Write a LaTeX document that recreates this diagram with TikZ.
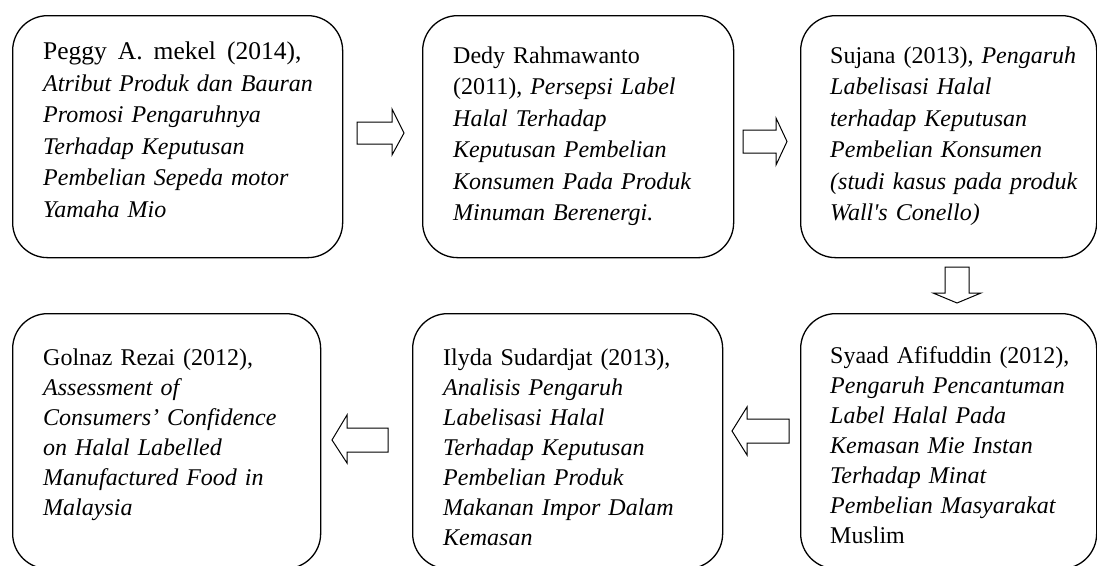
\documentclass[tikz,border=0pt]{standalone}
\usepackage{fontspec}
\setmainfont{Liberation Serif}
\begin{document}
\begin{tikzpicture}[x=1pt,y=-1pt,
  box/.style={draw, line width=1.3pt, rounded corners=35pt, anchor=north west, inner sep=0pt},
  txtop/.style={anchor=north west, inner sep=0pt, text width=300pt, align=left, font=\fontsize{24}{31.5}\selectfont},
  txbot/.style={anchor=north west, inner sep=0pt, text width=300pt, align=left, font=\fontsize{24}{30}\selectfont},
  blockarrow/.style={draw, line width=1pt, line join=miter}]
\useasboundingbox (0,0) rectangle (1097,565);
\clip (0,0) rectangle (1097,565);
% boxes
\node[box, minimum width=330pt, minimum height=242pt] (b1) at (12,15) {};
\node[box, minimum width=311pt, minimum height=242pt] (b2) at (422,15) {};
\node[box, minimum width=296pt, minimum height=242pt] (b3) at (800,15) {};
\node[box, minimum width=308pt, minimum height=255pt] (b4) at (12,313) {};
\node[box, minimum width=310pt, minimum height=255pt] (b5) at (412,313) {};
\node[box, minimum width=296pt, minimum height=255pt] (b6) at (800,313) {};
% texts
\node[txtop] (t1) at (43,37.5) {\strut{\fontsize{25.5}{31.5}\selectfont Peggy\hspace{3pt} A.\hspace{3pt} mekel\hspace{3pt} (2014),}\\ \itshape Atribut Produk dan Bauran\\ Promosi Pengaruhnya\\ Terhadap Keputusan\\ Pembelian Sepeda motor\\ Yamaha Mio};
\node[txtop] (t2) at (453,41) {\strut Dedy Rahmawanto\\ (2011), \textit{Persepsi Label}\\ \itshape Halal Terhadap\\ Keputusan Pembelian\\ Konsumen Pada Produk\\ Minuman Berenergi.};
\node[txtop] (t3) at (830,41) {\strut Sujana (2013), \textit{Pengaruh}\\ \itshape Labelisasi Halal\\ terhadap Keputusan\\ Pembelian Konsumen\\ (studi kasus pada produk\\ Wall\textquotesingle s Conello)};
\node[txbot] (t4) at (43,344) {\strut Golnaz Rezai (2012),\\ \itshape Assessment of\\ Consumers’ Confidence\\ on Halal Labelled\\ Manufactured Food in\\ Malaysia};
\node[txbot] (t5) at (443,344) {\strut Ilyda Sudardjat (2013),\\ \itshape Analisis Pengaruh\\ Labelisasi Halal\\ Terhadap Keputusan\\ Pembelian Produk\\ Makanan Impor Dalam\\ Kemasan};
\node[txbot] (t6) at (830,342) {\strut Syaad Afifuddin (2012),\\ \textit{Pengaruh Pencantuman}\\ \textit{Label Halal Pada}\\ \textit{Kemasan Mie Instan}\\ \textit{Terhadap Minat}\\ \textit{Pembelian Masyarakat}\\ Muslim};
% block arrows
\draw[blockarrow] (357,122) -- (392,122) -- (392,109) -- (404,133) -- (392,155) -- (392,144) -- (357,144) -- cycle;
\draw[blockarrow] (743,130) -- (776,130) -- (776,118) -- (787,141.5) -- (776,165) -- (776,153) -- (743,153) -- cycle;
\draw[blockarrow] (945,267) -- (969,267) -- (969,293) -- (981,293) -- (957,303) -- (933,293) -- (945,293) -- cycle;
\draw[blockarrow] (789,419) -- (747,419) -- (747,407) -- (732,431) -- (747,455) -- (747,443) -- (789,443) -- cycle;
\draw[blockarrow] (388,428) -- (347,428) -- (347,415) -- (332,440) -- (347,463) -- (347,452) -- (388,452) -- cycle;
\end{tikzpicture}
\end{document}
